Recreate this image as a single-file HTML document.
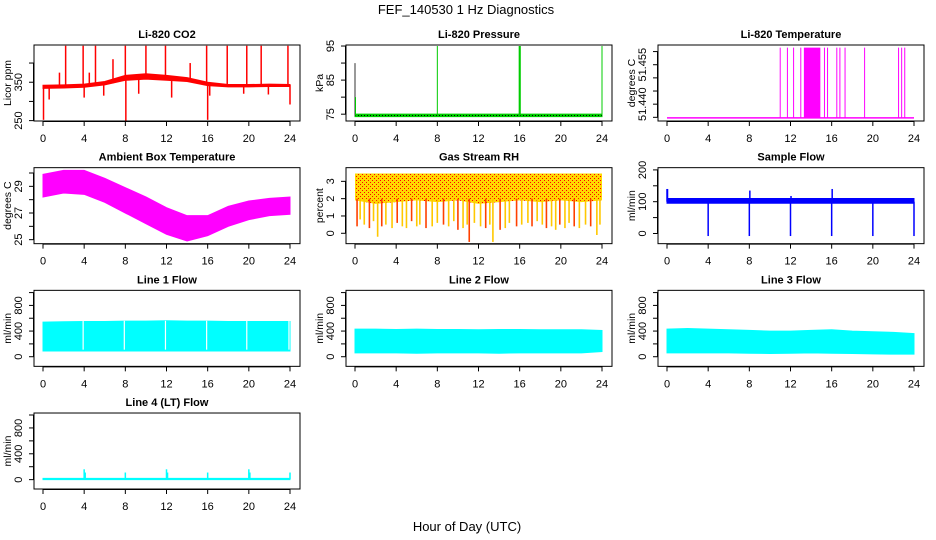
<!DOCTYPE html>
<html><head><meta charset="utf-8"><style>
html,body{margin:0;padding:0;background:#fff;}
svg{display:block;font-family:"Liberation Sans",sans-serif;}
</style></head><body>
<svg id="chart" width="936" height="540" viewBox="0 0 936 540">
<defs>
<pattern id="rhpat" width="4" height="4" patternUnits="userSpaceOnUse">
<rect width="4" height="4" fill="#FFD800"/><rect width="1" height="1" fill="#FF0000"/><rect x="2" y="2" width="1" height="1" fill="#FF0000"/>
</pattern>
</defs>
<text x="466" y="14" font-size="13" text-anchor="middle">FEF_140530  1 Hz Diagnostics</text>
<text x="467" y="531" font-size="13" text-anchor="middle">Hour of Day (UTC)</text>
</svg>
<script>
// ---- data ----
const xTicks = [0,4,8,12,16,20,24];
const bandHours2 = [0,2,4,6,8,10,12,14,16,18,20,22,24];
// CO2
const co2Upper = [342,343,345,352,368,372,368,362,350,344,344,345,344];
const co2Lower = [334,335,337,343,355,358,355,352,341,338,338,339,339];
const co2SpikeHours = [2.2,3.9,5.1,8.0,10.0,11.9,15.9,17.9,19.8,21.2,23.8,0.05,0.6,4.0,5.9,8.05,9.3,12.5,16.0,16.2,19.5,21.9,24.0,1.6,4.5,6.8,14.3];
const co2SpikeValues = [445,445,445,445,445,445,445,445,445,445,445,252,305,310,315,250,320,310,252,315,320,318,292,375,375,410,400];
// Pressure
const presBase = 74.6;
const presSpikeHours = [0,0.05,8,16,16.05,24];
const presSpikeValues = [90,80,95,95,95,95];
// Li-820 temperature
const tempBase = 51.4348;
const tempSpikeHours = [11.0,11.7,12.3,13.0,15.3,15.6,16.5,16.8,17.3,19.2,22.5,22.8,23.1];
const tempSpikeTop = 51.4615;
const tempBlockStart = 13.3, tempBlockEnd = 14.9;
// Ambient box temperature
const ambUpper = [29.9,30.2,30.2,29.6,28.9,28.2,27.4,26.8,26.8,27.5,27.9,28.1,28.2];
const ambLower = [28.2,28.5,28.4,27.8,27.0,26.2,25.4,24.9,25.3,26.0,26.5,26.8,26.9];
// RH
const rhUpper = [3.45,3.45,3.45,3.45,3.45,3.45,3.45,3.45,3.45,3.45,3.45,3.45,3.45];
const rhLower = [1.9,1.7,1.8,1.9,1.8,1.9,1.7,1.8,1.9,1.8,1.9,1.8,1.9];
const rhDipHours = [0.2,0.5,0.9,1.4,1.8,2.2,2.6,3.0,3.6,4.1,4.6,5.0,5.5,6.0,6.3,6.9,7.5,8.0,8.6,9.1,9.6,10.0,10.5,10.9,11.1,11.6,12.2,12.7,13.1,13.4,14.1,14.6,15.0,15.7,16.2,16.8,17.2,17.7,18.2,18.6,19.1,19.5,19.9,20.4,20.8,21.3,21.8,22.4,22.9,23.5,23.8];
const rhDipValues = [0.4,0.8,0.5,0.3,0.7,-0.2,0.4,0.5,0.3,0.6,0.4,0.3,0.7,0.4,0.5,0.3,0.4,0.6,0.5,0.4,0.7,0.2,0.3,0.5,-0.5,0.6,0.4,0.3,0.5,-0.5,0.2,0.3,0.6,0.4,0.5,0.6,0.4,0.7,0.5,0.3,0.4,0.2,0.5,0.3,0.6,0.4,0.3,0.5,0.4,-0.1,0.5];
// Sample flow
const sfUpper = 110, sfLower = 95;
const sfSpikeHours = [0,4,8,12,16,20,24,0.05,8.05,16.05,12.05];
const sfSpikeValues = [140,-8,-8,-8,-8,-8,-8,140,135,140,118];
// Line flows
const l1Upper = [540,545,550,550,555,555,560,555,555,550,550,550,550];
const l1Lower = [90,90,90,90,90,90,90,90,90,90,90,90,90];
const l1GapHours = [3.9,7.9,11.9,15.9,19.8,23.9];
const l2Upper = [430,430,425,430,425,425,420,425,425,420,420,420,410];
const l2Lower = [60,60,60,55,60,60,60,55,60,60,60,60,80];
const l3Upper = [430,440,430,420,410,400,400,410,420,400,390,380,360];
const l3Lower = [60,60,60,60,55,50,55,60,55,50,45,40,40];
const l4Base = [0,20];
const l4SpikeHours = [4,4.1,8,12,12.1,16,20,20.1,24];
const l4SpikeValues = [160,110,110,160,110,110,160,110,110];

const svg = document.getElementById('chart');
const NS = 'http://www.w3.org/2000/svg';
function mk(tag, attrs, parent){
  const e = document.createElementNS(NS, tag);
  for (const k in attrs) e.setAttribute(k, attrs[k]);
  (parent||svg).appendChild(e);
  return e;
}
function panel(col,row,title,ylab,ylim,yticks,ylabels,fmt){
  const x0 = 34+312*col, x1 = 300+312*col, y0 = 45+122.67*row, y1 = y0+76;
  const g = mk('g',{});
  
  
  const X = h => 43+312*col + h*247/24;
  const Y = v => y1 - (v-ylim[0])/(ylim[1]-ylim[0])*(y1-y0);
  const t = mk('text',{x:(x0+x1)/2,y:y0-7,'font-size':11,'font-weight':'bold','text-anchor':'middle'},g);
  t.textContent = title;
  
  
  const plot = mk('g',{},g);
  
  
  const xa = mk('g',{stroke:'#000','stroke-width':1},g);
  
  
  mk('line',{x1:X(0),x2:X(24),y1:y1+0.5,y2:y1+0.5},xa);
  xTicks.forEach(h=>{
    mk('line',{x1:X(h),x2:X(h),y1:y1,y2:y1+5},xa);
    const l = mk('text',{x:X(h),y:y1+21,'font-size':11,'text-anchor':'middle',stroke:'none'},g);
    l.textContent = h;
    
    
  });
  const ya = mk('g',{stroke:'#000'},g);
  
  
  mk('line',{x1:x0-0.5,x2:x0-0.5,y1:Y(yticks[0]),y2:Y(yticks[yticks.length-1])},ya);
  yticks.forEach(v=>{ mk('line',{x1:x0-5,x2:x0,y1:Y(v),y2:Y(v)},ya); });
  ylabels.forEach(v=>{
    const l = mk('text',{x:0,y:0,'font-size':11,'text-anchor':'middle',transform:`translate(${x0-12},${Y(v)}) rotate(-90)`},g);
    l.textContent = fmt ? fmt(v) : v;
    
    
  });
  const yt = mk('text',{x:0,y:0,'font-size':10.5,'text-anchor':'middle',transform:`translate(${x0-23},${(y0+y1)/2}) rotate(-90)`},g);
  yt.textContent = ylab;
  
  
  const b = mk('rect',{x:x0,y:y0,width:x1-x0,height:y1-y0,fill:'none',stroke:'#000'},g);
  
  
  return {plot,X,Y,y1};
}
function band(p,hours,up,lo,fill){
  let pts = hours.map((h,i)=>p.X(h)+','+p.Y(up[i]));
  for (let i=hours.length-1;i>=0;i--) pts.push(p.X(hours[i])+','+p.Y(lo[i]));
  const e = mk('polygon',{points:pts.join(' '),fill:fill,stroke:fill==='url(#rhpat)'?'none':fill,'stroke-width':1},p.plot);
  
  
}
function vline(p,h,a,b,color,w){
  const e = mk('line',{x1:p.X(h),x2:p.X(h),y1:p.Y(a),y2:p.Y(b),stroke:color,'stroke-width':w||1},p.plot);
  
  
}

let p = panel(0,0,'Li-820 CO2','Licor ppm',[249,447],[250,300,350,400],[250,350]);
band(p,bandHours2,co2Upper,co2Lower,'#FF0000');
co2SpikeHours.forEach((h,i)=>vline(p,h,co2Lower[Math.round(h/2)]+4,co2SpikeValues[i],'#FF0000',1.5));

p = panel(1,0,'Li-820 Pressure','kPa',[73,95.3],[75,80,85,90,95],[75,85,95]);
band(p,[0,24],[presBase+0.4,presBase+0.4],[presBase-0.3,presBase-0.3],'#00CC00');
mk('line',{x1:p.X(0),x2:p.X(24),y1:p.Y(presBase),y2:p.Y(presBase),stroke:'#000','stroke-width':1,'stroke-dasharray':'1,2'},p.plot);
presSpikeHours.forEach((h,i)=>vline(p,h,presBase,presSpikeValues[i],i===0?'#333':'#00CC00',h===16?2:1));

p = panel(2,0,'Li-820 Temperature','degrees C',[51.4336,51.4625],[51.435,51.440,51.445,51.450,51.455,51.460],[51.440,51.455],v=>v.toFixed(3));
mk('line',{x1:p.X(0),x2:p.X(24),y1:p.Y(tempBase),y2:p.Y(tempBase),stroke:'#FF00FF','stroke-width':1.5},p.plot);
tempSpikeHours.forEach(h=>vline(p,h,tempBase,tempSpikeTop,'#FF00FF',1));
mk('rect',{x:p.X(tempBlockStart),y:p.Y(tempSpikeTop),width:p.X(tempBlockEnd)-p.X(tempBlockStart),height:p.Y(tempBase)-p.Y(tempSpikeTop),fill:'#FF00FF'},p.plot);

p = panel(0,1,'Ambient Box Temperature','degrees C',[24.7,30.4],[25,26,27,28,29,30],[25,27,29]);
band(p,bandHours2,ambUpper,ambLower,'#FF00FF');

p = panel(1,1,'Gas Stream RH','percent',[-0.6,3.79],[0,1,2,3],[0,1,2,3]);
band(p,bandHours2,rhUpper,rhLower,'url(#rhpat)');
rhDipHours.forEach((h,i)=>vline(p,h,2.0,rhDipValues[i],i%3===0?'#FF4000':'#FFC800',1.6));

p = panel(2,1,'Sample Flow','ml/min',[-32,207],[0,50,100,150,200],[0,100,200]);
band(p,[0,24],[sfUpper,sfUpper],[sfLower,sfLower],'#0000FF');
sfSpikeHours.forEach((h,i)=>vline(p,h,100,sfSpikeValues[i],'#0000FF',1.5));

const flowTicks=[0,200,400,600,800,1000], flowLabels=[0,400,800];
p = panel(0,2,'Line 1 Flow','ml/min',[-150,1035],flowTicks,flowLabels);
band(p,bandHours2,l1Upper,l1Lower,'#00FFFF');
l1GapHours.forEach(h=>vline(p,h,l1Lower[0]+20,l1Upper[6],'#FFFFFF',1.2));
p = panel(1,2,'Line 2 Flow','ml/min',[-150,1035],flowTicks,flowLabels);
band(p,bandHours2,l2Upper,l2Lower,'#00FFFF');
p = panel(2,2,'Line 3 Flow','ml/min',[-150,1035],flowTicks,flowLabels);
band(p,bandHours2,l3Upper,l3Lower,'#00FFFF');
p = panel(0,3,'Line 4 (LT) Flow','ml/min',[-145,1031],flowTicks,flowLabels);
band(p,[0,24],[l4Base[1],l4Base[1]],[l4Base[0],l4Base[0]],'#00FFFF');
l4SpikeHours.forEach((h,i)=>vline(p,h,10,l4SpikeValues[i],'#00FFFF',1.5));
</script>
</body></html>
